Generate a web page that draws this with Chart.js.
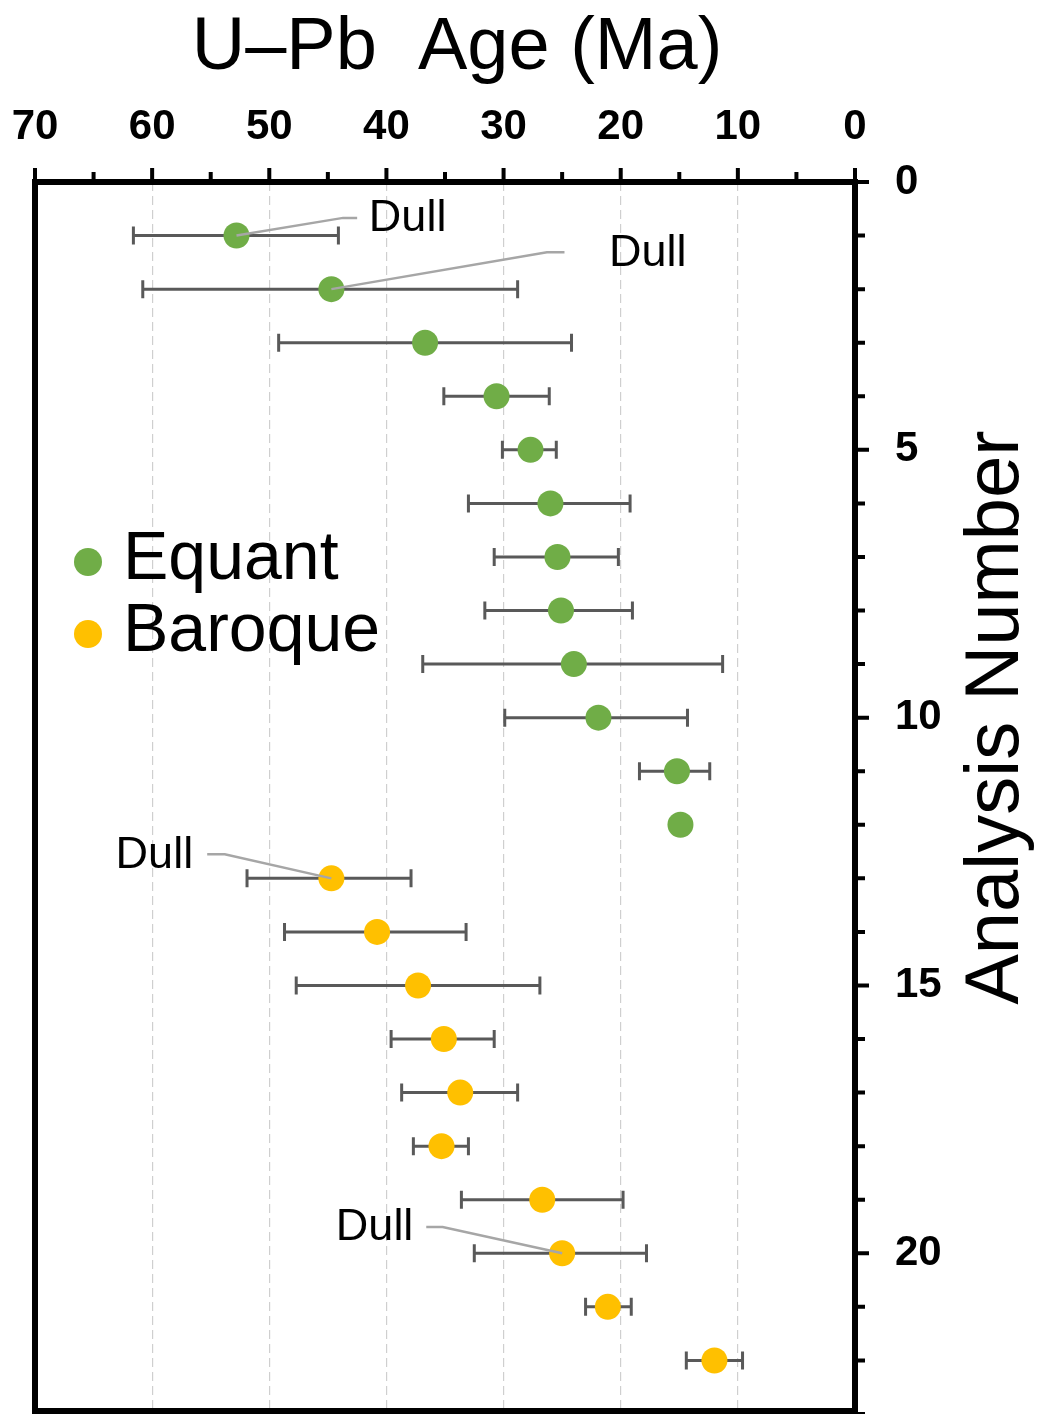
<!DOCTYPE html>
<html>
<head>
<meta charset="utf-8">
<script src="https://cdn.jsdelivr.net/npm/chart.js@4.4.1/dist/chart.umd.min.js"></script>
<style>
html,body{margin:0;padding:0;background:#fff;}
#wrap{width:1037px;height:1414px;position:relative;}
</style>
</head>
<body>
<div id="wrap"><canvas id="c" width="1037" height="1414"></canvas></div>
<script>
// ---- data ----
const seriesNames = ['Equant', 'Baroque'];
const seriesColors = ['#70AD47', '#FFC000'];

const analysisEquant = [1, 2, 3, 4, 5, 6, 7, 8, 9, 10, 11, 12];
const ageEquant      = [52.8, 44.7, 36.7, 30.6, 27.7, 26.0, 25.4, 25.1, 24.0, 21.9, 15.2, 14.9];
const ageOldEquant   = [61.6, 60.8, 49.2, 35.1, 30.1, 33.0, 30.8, 31.6, 36.9, 29.9, 18.4, null];
const ageYoungEquant = [44.1, 28.8, 24.2, 26.1, 25.5, 19.2, 20.2, 19.0, 11.3, 14.3, 12.4, null];

const analysisBaroque = [13, 14, 15, 16, 17, 18, 19, 20, 21, 22];
const ageBaroque      = [44.7, 40.8, 37.3, 35.1, 33.7, 35.3, 26.7, 25.0, 21.1, 12.0];
const ageOldBaroque   = [51.9, 48.7, 47.7, 39.6, 38.7, 37.7, 33.6, 32.5, 23.0, 14.4];
const ageYoungBaroque = [37.9, 33.2, 26.9, 30.8, 28.8, 33.0, 19.8, 17.8, 19.1, 9.6];

const ageTicks = [0, 10, 20, 30, 40, 50, 60, 70];
const analysisTicks = [0, 5, 10, 15, 20];

const xTitle = 'U\u2013Pb  Age (Ma)';
const yTitle = 'Analysis Number';

// "Dull" call-outs: which point, and where the leader bends / ends and the label sits (data units)
const dullNotes = [
  { series: 0, index: 0,  text: 'Dull', bend: [43.7, 0.67],  end: [42.5, 0.67],  label: [41.5, 0.67],  align: 'left' },
  { series: 0, index: 1,  text: 'Dull', bend: [26.3, 1.31],  end: [24.8, 1.31],  label: [21.0, 1.31],  align: 'left' },
  { series: 1, index: 0,  text: 'Dull', bend: [53.8, 12.55], end: [55.3, 12.55], label: [56.5, 12.55], align: 'right' },
  { series: 1, index: 7,  text: 'Dull', bend: [35.2, 19.51], end: [36.6, 19.51], label: [37.7, 19.51], align: 'right' }
];

const FONT = "'Liberation Sans', Arial, Helvetica, sans-serif";

function toPoints(xs, ys) { return xs.map((v, i) => ({ x: v, y: ys[i] })); }
const errorRanges = [
  { old: ageOldEquant, young: ageYoungEquant, ys: analysisEquant },
  { old: ageOldBaroque, young: ageYoungBaroque, ys: analysisBaroque }
];

const errorBarPlugin = {
  id: 'errorBars',
  beforeDatasetsDraw(chart) {
    const { ctx, scales: { x, y } } = chart;
    ctx.save();
    ctx.strokeStyle = '#595959';
    ctx.lineWidth = 3;
    errorRanges.forEach(r => {
      r.ys.forEach((a, i) => {
        if (r.old[i] == null || r.young[i] == null) return;
        const py = y.getPixelForValue(a);
        const x1 = x.getPixelForValue(r.old[i]);
        const x2 = x.getPixelForValue(r.young[i]);
        ctx.beginPath();
        ctx.moveTo(x1, py); ctx.lineTo(x2, py);
        ctx.moveTo(x1, py - 9); ctx.lineTo(x1, py + 9);
        ctx.moveTo(x2, py - 9); ctx.lineTo(x2, py + 9);
        ctx.stroke();
      });
    });
    ctx.restore();
  }
};

const notesPlugin = {
  id: 'dullNotes',
  afterDatasetsDraw(chart) {
    const { ctx, scales: { x, y } } = chart;
    ctx.save();
    dullNotes.forEach(n => {
      const pt = chart.data.datasets[n.series].data[n.index];
      const px = x.getPixelForValue(pt.x), py = y.getPixelForValue(pt.y);
      const bx = x.getPixelForValue(n.bend[0]), by = y.getPixelForValue(n.bend[1]);
      const ex = x.getPixelForValue(n.end[0]), ey = y.getPixelForValue(n.end[1]);
      ctx.strokeStyle = '#A6A6A6';
      ctx.lineWidth = 2.5;
      ctx.beginPath();
      ctx.moveTo(px, py); ctx.lineTo(bx, by); ctx.lineTo(ex, ey);
      ctx.stroke();
      ctx.fillStyle = '#000';
      ctx.font = '45px ' + FONT;
      ctx.textAlign = n.align;
      ctx.textBaseline = 'middle';
      ctx.fillText(n.text, x.getPixelForValue(n.label[0]), y.getPixelForValue(n.label[1]) + 1);
    });
    ctx.restore();
  }
};

const framePlugin = {
  id: 'frame',
  afterDraw(chart) {
    const { ctx, chartArea: a, scales: { x, y } } = chart;
    ctx.save();
    ctx.strokeStyle = '#000';
    ctx.lineWidth = 6;
    ctx.beginPath();
    ctx.rect(a.left, a.top, a.right - a.left, a.bottom - a.top - 3);
    ctx.stroke();
    // x tick marks (every 5, major every 10) pointing up
    ctx.lineWidth = 4;
    ctx.beginPath();
    for (let v = x.min; v <= x.max; v += 5) {
      const px = x.getPixelForValue(v);
      const len = (v % 10 === 0) ? 14 : 10;
      ctx.moveTo(px, a.top); ctx.lineTo(px, a.top - len);
    }
    // y tick marks (every 1, major every 5) pointing right
    for (let v = y.min; v <= y.max; v += 1) {
      const py = y.getPixelForValue(v);
      const len = (v % 5 === 0) ? 14 : 10;
      ctx.moveTo(a.right, py); ctx.lineTo(a.right + len, py);
    }
    ctx.stroke();

    // axis titles
    ctx.fillStyle = '#000';
    ctx.font = '74px ' + FONT;
    ctx.textAlign = 'center';
    ctx.textBaseline = 'alphabetic';
    ctx.fillText(xTitle, (a.left + a.right) / 2 + 12, 69);

    ctx.save();
    ctx.translate(1018, y.getPixelForValue(10));
    ctx.rotate(-Math.PI / 2);
    ctx.font = '76px ' + FONT;
    ctx.textAlign = 'center';
    ctx.textBaseline = 'alphabetic';
    ctx.fillText(yTitle, 0, 0);
    ctx.restore();

    // legend
    ctx.font = '68px ' + FONT;
    ctx.textAlign = 'left';
    ctx.textBaseline = 'middle';
    const legY = [562, 634];
    chart.data.datasets.forEach((ds, i) => {
      ctx.fillStyle = ds.backgroundColor;
      ctx.beginPath();
      ctx.arc(88, legY[i], 14, 0, Math.PI * 2);
      ctx.fill();
      ctx.fillStyle = '#000';
      ctx.fillText(ds.label, 123, legY[i] - 2);
    });
    ctx.restore();
  }
};

function zeroPad(s) { s.paddingTop = 0; s.paddingBottom = 0; s.paddingLeft = 0; s.paddingRight = 0; }

new Chart(document.getElementById('c'), {
  type: 'scatter',
  data: {
    datasets: [
      { label: seriesNames[0], data: toPoints(ageEquant, analysisEquant), backgroundColor: seriesColors[0], borderWidth: 0, pointRadius: 13 },
      { label: seriesNames[1], data: toPoints(ageBaroque, analysisBaroque), backgroundColor: seriesColors[1], borderWidth: 0, pointRadius: 13 }
    ]
  },
  options: {
    responsive: false,
    devicePixelRatio: 1,
    animation: false,
    layout: { autoPadding: false, padding: { left: 35, top: 0, right: 0, bottom: 0 } },
    plugins: { legend: { display: false }, tooltip: { enabled: false } },
    scales: {
      x: {
        type: 'linear', position: 'top', reverse: true, min: 0, max: 70,
        afterBuildTicks: s => { s.ticks = ageTicks.map(v => ({ value: v })); },
        afterFit: s => { s.height = 182; zeroPad(s); },
        ticks: { color: '#000', padding: 15, maxRotation: 0, autoSkip: false,
                 font: { family: FONT, size: 42, weight: 'bold' } },
        grid: {
          color: c => (c.tick && (c.tick.value === 0 || c.tick.value === 70)) ? 'rgba(0,0,0,0)' : '#cfcfcf',
          lineWidth: 1.2, tickLength: 14, tickColor: 'rgba(0,0,0,0)', drawOnChartArea: true
        },
        border: { display: false, dash: [9, 5] }
      },
      y: {
        type: 'linear', position: 'right', reverse: true, min: 0, max: 23,
        afterBuildTicks: s => { s.ticks = analysisTicks.map(v => ({ value: v })); },
        afterFit: s => { s.width = 182; zeroPad(s); },
        ticks: { color: '#000', padding: 28, autoSkip: false,
                 font: { family: FONT, size: 42, weight: 'bold' } },
        grid: { drawOnChartArea: false, tickLength: 12, tickColor: 'rgba(0,0,0,0)' },
        border: { display: false }
      }
    }
  },
  plugins: [errorBarPlugin, notesPlugin, framePlugin]
});
</script>
</body>
</html>
